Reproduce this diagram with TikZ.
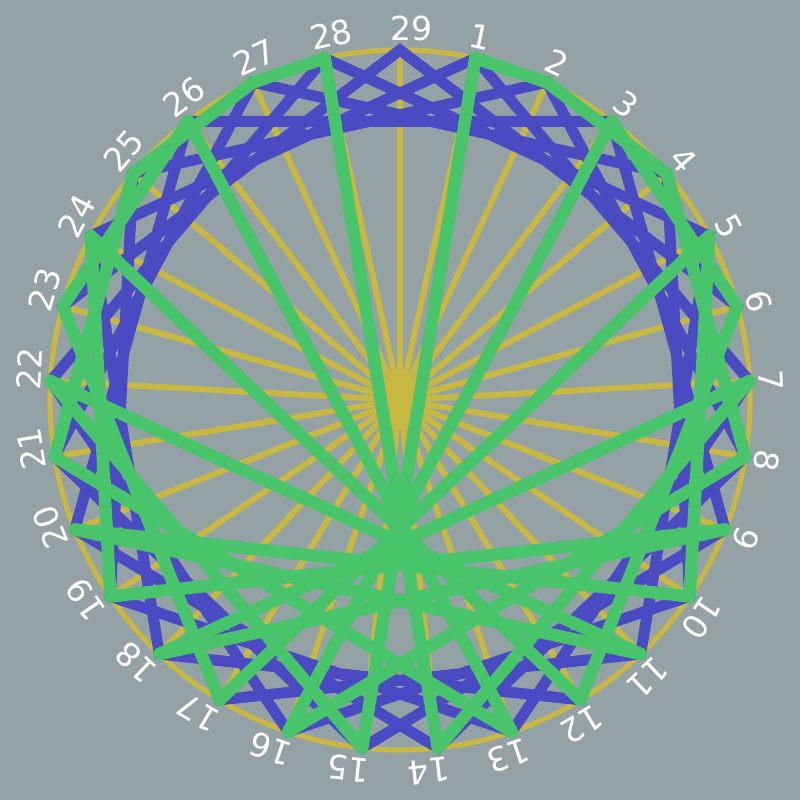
\documentclass[tikz,border=0pt]{standalone}
\usepackage{fontspec}
\setmainfont{DejaVu Sans}
\definecolor{bgc}{RGB}{148,162,165}
\definecolor{yelc}{RGB}{200,184,66}
\definecolor{bluc}{RGB}{74,74,194}
\definecolor{grnc}{RGB}{72,196,106}
\tikzset{
  spoke/.style={draw=yelc, line width=1.7pt},
  rim/.style={draw=yelc, line width=1.45pt},
  bluestar/.style={draw=bluc, line width=3.1pt, line join=miter, miter limit=10},
  greenchord/.style={draw=grnc, line width=3.55pt, line cap=round},
  numlab/.style={text=white, inner sep=0pt, anchor=west, font=\fontsize{9.4}{11}\selectfont}
}
\begin{document}
\begin{tikzpicture}[x=0.01cm,y=0.01cm]
\fill[bgc] (-400,-400) rectangle (400,400);
\useasboundingbox (-400,-400) rectangle (400,400);
\coordinate (c) at (0,0);
\foreach \k in {1,...,29} {
  \coordinate (p\k) at ({90-\k*360/29}:350);
}
\draw[rim] (c) circle (350);
\foreach \k in {1,...,29} {
  \draw[spoke] (c) -- (p\k);
}
\draw[bluestar] (p29) foreach \j in {6,12,18,24,1,7,13,19,25,2,8,14,20,26,3,9,15,21,27,4,10,16,22,28,5,11,17,23} { -- (p\j) } -- cycle;
\foreach \j [evaluate=\j as \m using {int(mod(2*\j,29))}] in {1,...,28} {
  \draw[greenchord] (p\j) -- (p\m);
}
\foreach \k [evaluate=\k as \a using {90-\k*360/29}, evaluate=\k as \r using {-\k*360/29}] in {1,...,29} {
  \node[numlab, rotate=\r] (l\k) at ({372*cos(\a)-10.5*cos(\r)},{372*sin(\a)-10.5*sin(\r)}) {\k};
}
\end{tikzpicture}
\end{document}
